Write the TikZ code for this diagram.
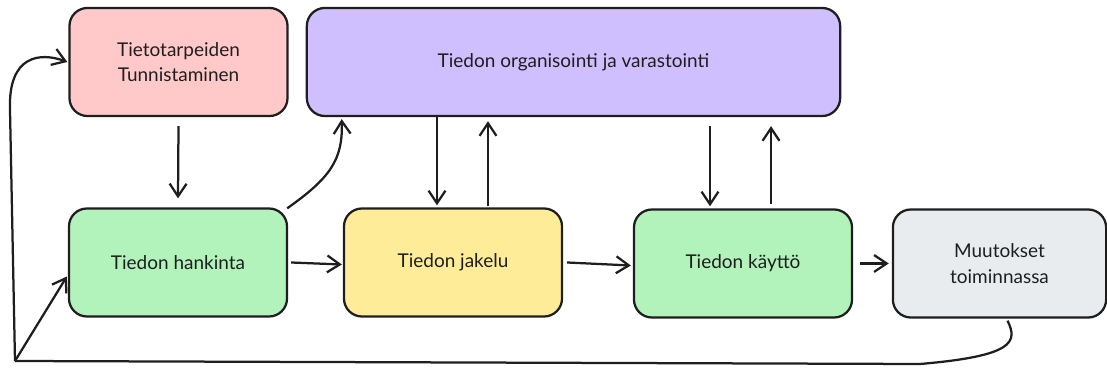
\documentclass[tikz,border=0pt]{standalone}
\usepackage{fontspec}
\setmainfont{Lato}
\usepackage{tikz}
\usetikzlibrary{arrows.meta,positioning,calc}
\definecolor{ink}{HTML}{1E1E1E}
\definecolor{needpink}{HTML}{FFC9C9}
\definecolor{orgviolet}{HTML}{D0BFFF}
\definecolor{usegreen}{HTML}{B2F2BB}
\definecolor{shareyellow}{HTML}{FFEC99}
\definecolor{changegray}{HTML}{E9ECEF}

\begin{document}
\begin{tikzpicture}[x=0.025cm, y=-0.025cm,
    box/.style={draw=ink, line width=1.6pt, rounded corners=0.45cm,
        minimum width=5.45cm, minimum height=2.7cm, align=center,
        text=ink, font=\fontsize{13.5}{18}\selectfont},
    line/.style={draw=ink, line width=1.6pt},
    link/.style={line, -{Straight Barb[length=9pt,width=12pt]}}]
    \useasboundingbox (0,0) rectangle (1107,372);

    % Top row
    \node[box, fill=needpink] (need) at (178.5,62) {Tietotarpeiden\\Tunnistaminen};
    \node[box, fill=orgviolet, minimum width=13.33cm] (org) at (573.5,62) {Tiedon organisointi ja varastointi};

    % Bottom row
    \node[box, fill=usegreen] (hank) at (178,262.5) {Tiedon hankinta};
    \node[box, fill=shareyellow] (jak) at (453,262.5) {Tiedon jakelu};
    \node[box, fill=usegreen] (kay) at (743,263.5) {Tiedon käyttö};
    \node[box, fill=changegray, minimum width=5.33cm] (muut) at (999.5,263.5) {Muutokset\\toiminnassa};

    % Main flow
    \draw[link] ($(need.south)+(0,9)$) -- ($(hank.north)+(0,-9)$);
    \draw[link] ($(hank.north east)+(-1,1)$) .. controls (330,178) and (343,160) .. ($(org.south west)+(36,2)$);
    \draw[link] ($(hank.east)+(3,0)$) -- ($(jak.west)+(-1,2)$);
    \draw[link] ($(jak.east)+(4,0)$) -- ($(kay.west)+(-2,2)$);
    \draw[link] ($(kay.east)+(7,0)$) -- ($(muut.west)+(-3,0)$);

    % Storage in and out
    \draw[link] (org.south -| 437,0) -- ($(jak.north -| 437,0)+(0,-2)$);
    \draw[link] ($(jak.north -| 488,0)+(0,-1)$) -- ($(org.south -| 488,0)+(0,4)$);
    \draw[link] ($(org.south -| 710,0)+(0,9)$) -- ($(kay.north -| 710,0)+(0,-2)$);
    \draw[link] ($(kay.north -| 771,0)+(0,-4)$) -- ($(org.south -| 771,0)+(0,9)$);

    % Feedback loop
    \coordinate (corner) at (15,361);
    \draw[line] ($(muut.south)+(8,2)$) .. controls (1018,342) and (1014,356) .. (920,364) -- (corner);
    \draw[link] (corner) -- (10,110) .. controls (8,55) and (40,52) .. ($(need.west)+(-1,0)$);
    \draw[link] (corner) -- ($(hank.west)+(-1,14)$);
\end{tikzpicture}
\end{document}
